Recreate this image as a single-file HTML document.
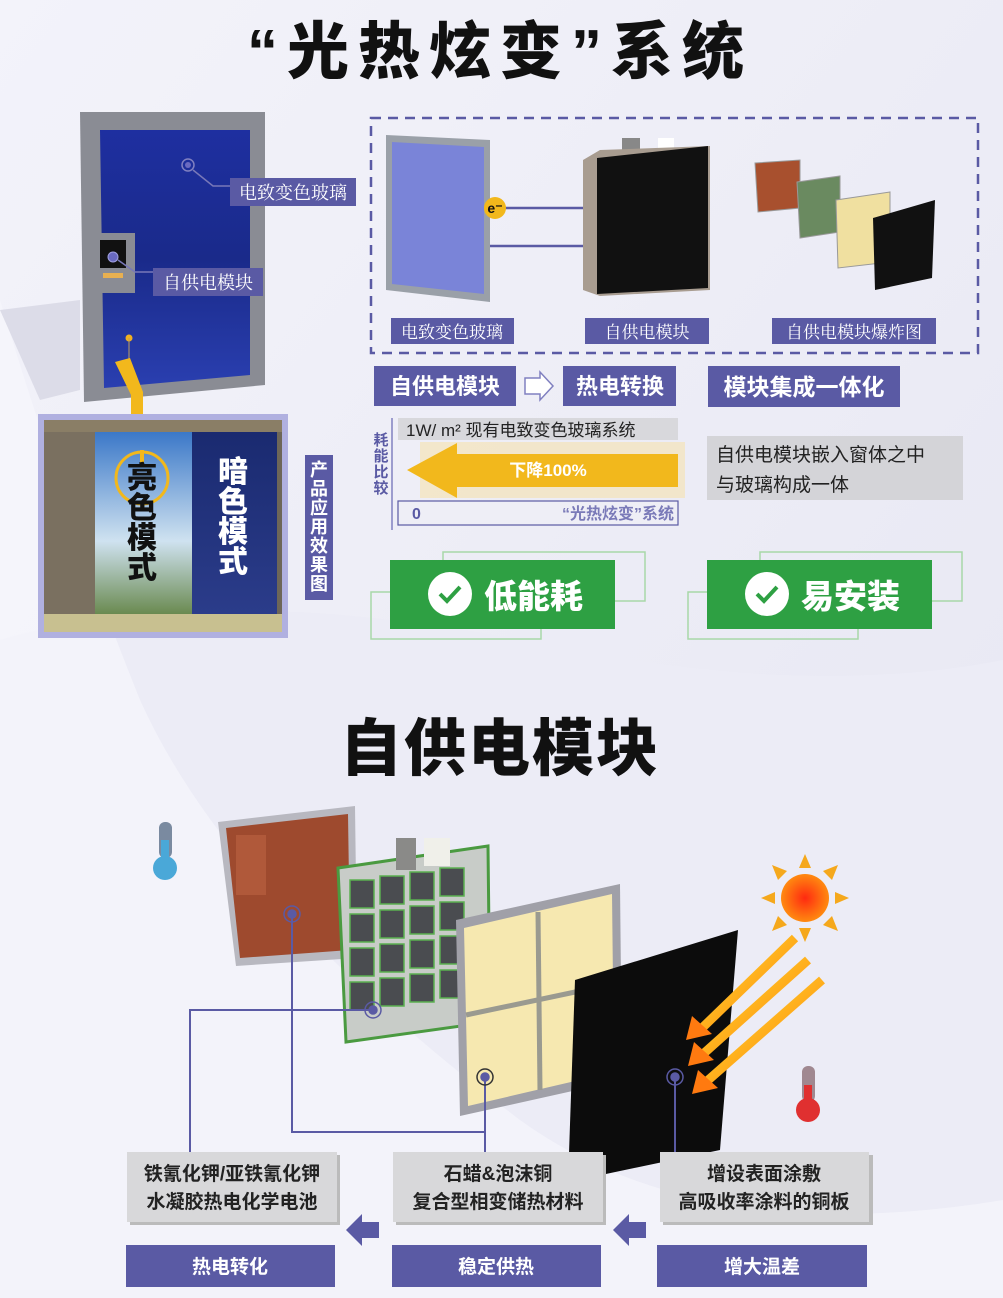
<!DOCTYPE html>
<html><head><meta charset="utf-8"><style>
html,body{margin:0;padding:0;background:#eeeef7;}
svg{display:block}
text{font-family:"Liberation Sans","Noto Sans CJK SC",sans-serif;}
.ser{font-family:"Liberation Serif","Noto Serif CJK SC",serif;}
</style></head><body>
<svg width="1003" height="1298" viewBox="0 0 1003 1298" xmlns="http://www.w3.org/2000/svg">
<defs>
<linearGradient id="bg" x1="0" y1="0" x2="1" y2="1">
<stop offset="0" stop-color="#f3f3fa"/><stop offset="1" stop-color="#e6e6f2"/></linearGradient>
<linearGradient id="glass" x1="0" y1="0" x2="0" y2="1">
<stop offset="0" stop-color="#1e2fa0"/><stop offset="0.5" stop-color="#1a2a8a"/><stop offset="1" stop-color="#2a3fb0"/></linearGradient>
<linearGradient id="sky" x1="0" y1="0" x2="0" y2="1">
<stop offset="0" stop-color="#3b78c8"/><stop offset="0.6" stop-color="#cfe2f0"/><stop offset="1" stop-color="#6a8a50"/></linearGradient>
<linearGradient id="dark" x1="0" y1="0" x2="0" y2="1">
<stop offset="0" stop-color="#1a2a70"/><stop offset="1" stop-color="#2b3c8a"/></linearGradient>
<linearGradient id="arr" x1="0" y1="0" x2="1" y2="1">
<stop offset="0" stop-color="#ffe62a"/><stop offset="1" stop-color="#ff7a10"/></linearGradient>
<radialGradient id="sun"><stop offset="0" stop-color="#ff2a10"/><stop offset="1" stop-color="#ff8a10"/></radialGradient>
</defs>
<rect width="1003" height="1298" fill="url(#bg)"/>
<path d="M0 640 Q200 580 520 640 Q800 700 1003 660 L1003 1298 L0 1298 Z" fill="#ececf6"/>
<path d="M0 300 Q60 500 140 700 Q230 900 520 1120 Q700 1250 1003 1200 L1003 1298 L0 1298Z" fill="#f7f7fc" opacity="0.7"/>

<!-- title -->
<text x="500" y="73" text-anchor="middle" font-size="62" font-weight="900" fill="#111" letter-spacing="9">“光热炫变”系统</text>

<!-- window -->
<polygon points="0,310 80,300 80,390 40,400" fill="#dcdce8"/>
<polygon points="80,112 265,112 265,385 84,402" fill="#8a8c94"/>
<polygon points="100,130 250,130 250,375 104,388" fill="url(#glass)"/>
<rect x="95" y="233" width="40" height="60" fill="#8a8c94"/>
<rect x="100" y="240" width="26" height="28" fill="#111"/>
<rect x="103" y="273" width="20" height="5" fill="#e8b050"/>
<circle cx="188" cy="165" r="6" fill="none" stroke="#8080c0" stroke-width="1.5"/><circle cx="188" cy="165" r="3" fill="#6a6ac0"/>
<polyline points="193,170 213,186 232,186" fill="none" stroke="#7878b8" stroke-width="1.5"/>
<rect x="230" y="178" width="126" height="28" fill="#5a5aa4"/>
<text x="293" y="199" class="ser" text-anchor="middle" font-size="18" fill="#fff">电致变色玻璃</text>
<circle cx="113" cy="257" r="5" fill="#6a6ac0" stroke="#a0a0e0"/>
<polyline points="118,260 135,272 153,272" fill="none" stroke="#7878b8" stroke-width="1.5"/>
<rect x="153" y="268" width="110" height="28" fill="#5a5aa4"/>
<text x="208" y="289" class="ser" text-anchor="middle" font-size="18" fill="#fff">自供电模块</text>
<circle cx="129" cy="338" r="3.5" fill="#f0b020"/>
<line x1="129" y1="338" x2="129" y2="370" stroke="#c0a060"/>
<polygon points="115,362 130,358 143,392 143,430 131,430 131,395" fill="#f2b81c"/>

<!-- room -->
<rect x="38" y="414" width="250" height="224" fill="#b0b0e0"/>
<rect x="44" y="420" width="238" height="212" fill="#6d6658"/>
<polygon points="44,420 282,420 282,432 44,432" fill="#8a7e66"/>
<rect x="95" y="432" width="97" height="182" fill="url(#sky)"/>
<rect x="192" y="432" width="85" height="182" fill="url(#dark)"/>
<rect x="44" y="432" width="51" height="190" fill="#7a7060"/>
<polygon points="44,614 282,614 282,632 44,632" fill="#c8c090"/>
<rect x="140" y="450" width="4" height="14" fill="#f2b81c"/>
<circle cx="142" cy="478" r="26" fill="none" stroke="#f2b81c" stroke-width="3"/>
<text x="142" y="488" text-anchor="middle" font-size="30" font-weight="900" fill="#111"><tspan x="142" dy="0">亮</tspan><tspan x="142" dy="30">色</tspan><tspan x="142" dy="30">模</tspan><tspan x="142" dy="30">式</tspan></text>
<text x="233" y="482" text-anchor="middle" font-size="30" font-weight="900" fill="#fff"><tspan x="233" dy="0">暗</tspan><tspan x="233" dy="30">色</tspan><tspan x="233" dy="30">模</tspan><tspan x="233" dy="30">式</tspan></text>
<rect x="305" y="455" width="28" height="145" fill="#5a5aa4"/>
<text x="319" y="476" text-anchor="middle" font-size="18" font-weight="700" fill="#fff"><tspan x="319" dy="0">产</tspan><tspan x="319" dy="19">品</tspan><tspan x="319" dy="19">应</tspan><tspan x="319" dy="19">用</tspan><tspan x="319" dy="19">效</tspan><tspan x="319" dy="19">果</tspan><tspan x="319" dy="19">图</tspan></text>

<!-- dashed box -->
<rect x="371" y="118" width="607" height="235" fill="none" stroke="#5a5aa4" stroke-width="2.5" stroke-dasharray="10,7"/>
<polygon points="386,135 490,140 490,302 386,290" fill="#9aa0a8"/>
<polygon points="392,142 484,147 484,294 392,284" fill="#7a84d8"/>
<line x1="490" y1="208" x2="585" y2="208" stroke="#5a5aa4" stroke-width="2.5"/>
<line x1="490" y1="246" x2="585" y2="246" stroke="#5a5aa4" stroke-width="2.5"/>
<circle cx="495" cy="208" r="11" fill="#f2b81c"/><text x="495" y="213" text-anchor="middle" font-size="14" font-weight="700" fill="#111">e⁻</text>
<circle cx="598" cy="248" r="11" fill="#f2b81c"/><text x="598" y="253" text-anchor="middle" font-size="14" font-weight="700" fill="#111">e⁻</text>
<rect x="622" y="138" width="18" height="12" fill="#888"/><rect x="658" y="138" width="16" height="12" fill="#fff"/>
<polygon points="583,160 600,150 710,146 710,290 600,296 583,290" fill="#a89c90"/>
<polygon points="597,158 708,146 708,288 597,294" fill="#111"/>
<!-- exploded mini -->
<polygon points="755,163 800,160 800,208 758,212" fill="#a8502e" stroke="#999"/>
<polygon points="797,182 840,176 840,232 800,238" fill="#6a8a60" stroke="#999"/>
<polygon points="836,200 890,192 890,262 838,268" fill="#f0e0a0" stroke="#999"/>
<polygon points="873,218 935,200 932,278 875,290" fill="#111"/>
<rect x="391" y="318" width="123" height="26" fill="#5a5aa4"/><text x="452" y="338" class="ser" text-anchor="middle" font-size="17" fill="#fff">电致变色玻璃</text>
<rect x="585" y="318" width="124" height="26" fill="#5a5aa4"/><text x="647" y="338" class="ser" text-anchor="middle" font-size="17" fill="#fff">自供电模块</text>
<rect x="772" y="318" width="164" height="26" fill="#5a5aa4"/><text x="854" y="338" class="ser" text-anchor="middle" font-size="17" fill="#fff">自供电模块爆炸图</text>

<!-- feature boxes -->
<rect x="374" y="366" width="142" height="40" fill="#5a5aa4"/><text x="445" y="394" text-anchor="middle" font-size="22" font-weight="700" fill="#fff">自供电模块</text>
<polygon points="525,378 540,378 540,372 553,386 540,400 540,394 525,394" fill="#fff" stroke="#8080c0" stroke-width="1.5"/>
<rect x="563" y="366" width="113" height="40" fill="#5a5aa4"/><text x="620" y="394" text-anchor="middle" font-size="22" font-weight="700" fill="#fff">热电转换</text>
<rect x="708" y="366" width="192" height="41" fill="#5a5aa4"/><text x="804" y="395" text-anchor="middle" font-size="23" font-weight="700" fill="#fff">模块集成一体化</text>

<text x="381" y="445" text-anchor="middle" font-size="15" font-weight="700" fill="#5a5aa4"><tspan x="381" dy="0">耗</tspan><tspan x="381" dy="16">能</tspan><tspan x="381" dy="16">比</tspan><tspan x="381" dy="16">较</tspan></text>
<line x1="392" y1="418" x2="392" y2="530" stroke="#8080c0" stroke-width="1.5"/>
<rect x="398" y="418" width="280" height="22" fill="#d8d8dc"/>
<text x="406" y="436" font-size="17" fill="#222">1W/ m² 现有电致变色玻璃系统</text>
<rect x="420" y="442" width="265" height="56" fill="#f7e0a0" opacity="0.5"/>
<polygon points="407,470 457,443 457,454 678,454 678,487 457,487 457,498" fill="#f2b81c"/>
<text x="548" y="476" text-anchor="middle" font-size="17" font-weight="700" fill="#fff">下降100%</text>
<rect x="398" y="501" width="280" height="24" fill="#eeeef6" stroke="#5a5aa4" stroke-width="1.2"/>
<text x="412" y="519" font-size="16" font-weight="700" fill="#5a5aa4">0</text>
<text x="674" y="519" text-anchor="end" font-size="16" font-weight="700" fill="#7a7ab8">“光热炫变”系统</text>
<rect x="707" y="436" width="256" height="64" fill="#d4d4d8"/>
<text x="716" y="461" font-size="19" fill="#222">自供电模块嵌入窗体之中</text>
<text x="716" y="491" font-size="19" fill="#222">与玻璃构成一体</text>

<!-- green buttons -->
<rect x="443" y="552" width="202" height="49" fill="none" stroke="#a8d8a8" stroke-width="1.5"/>
<rect x="371" y="592" width="170" height="47" fill="none" stroke="#a8d8a8" stroke-width="1.5"/>
<rect x="390" y="560" width="225" height="69" fill="#2ea043"/>
<circle cx="450" cy="594" r="22" fill="#fff"/><polyline points="440,594 447,601 460,587" fill="none" stroke="#2ea043" stroke-width="4"/>
<text x="484" y="608" font-size="33" font-weight="900" fill="#fff">低能耗</text>
<rect x="760" y="552" width="202" height="49" fill="none" stroke="#a8d8a8" stroke-width="1.5"/>
<rect x="688" y="592" width="170" height="47" fill="none" stroke="#a8d8a8" stroke-width="1.5"/>
<rect x="707" y="560" width="225" height="69" fill="#2ea043"/>
<circle cx="767" cy="594" r="22" fill="#fff"/><polyline points="757,594 764,601 777,587" fill="none" stroke="#2ea043" stroke-width="4"/>
<text x="801" y="608" font-size="33" font-weight="900" fill="#fff">易安装</text>

<!-- title 2 -->
<text x="500" y="770" text-anchor="middle" font-size="62" font-weight="900" fill="#111" letter-spacing="2">自供电模块</text>

<!-- thermometers -->
<rect x="159" y="822" width="13" height="36" rx="6" fill="#7a8aa0"/><circle cx="165" cy="868" r="12" fill="#4aa8d8"/><rect x="161" y="840" width="8" height="24" fill="#4aa8d8"/>
<rect x="802" y="1066" width="13" height="36" rx="6" fill="#a08890"/><circle cx="808" cy="1110" r="12" fill="#e03030"/><rect x="804" y="1085" width="8" height="24" fill="#e03030"/>

<!-- sun -->
<g transform="translate(805,898)" fill="#f5a81c">
<polygon points="-6,-30 6,-30 0,-44"/><polygon points="-6,30 6,30 0,44"/><polygon points="-30,-6 -30,6 -44,0"/><polygon points="30,-6 30,6 44,0"/>
<polygon points="18,-27 27,-18 33,-33"/><polygon points="-18,-27 -27,-18 -33,-33"/><polygon points="18,27 27,18 33,33"/><polygon points="-18,27 -27,18 -33,33"/>
</g>
<circle cx="805" cy="898" r="24" fill="url(#sun)"/>

<!-- panels -->
<polygon points="218,822 355,806 357,958 236,966" fill="#b8b8c0"/>
<polygon points="226,828 348,814 350,950 240,958" fill="#9e4a2e"/>
<rect x="236" y="835" width="30" height="60" fill="#b86040" opacity="0.7"/>
<polygon points="338,868 488,846 490,1022 346,1042" fill="#c8ccc8" stroke="#4a9a40" stroke-width="3"/>
<rect x="396" y="838" width="20" height="32" fill="#8a8a88"/><rect x="424" y="838" width="26" height="28" fill="#f0f0ea"/>
<g fill="#4a4c50" stroke="#5ab050" stroke-width="1.5">
<rect x="350" y="880" width="24" height="28"/><rect x="380" y="876" width="24" height="28"/><rect x="410" y="872" width="24" height="28"/><rect x="440" y="868" width="24" height="28"/>
<rect x="350" y="914" width="24" height="28"/><rect x="380" y="910" width="24" height="28"/><rect x="410" y="906" width="24" height="28"/><rect x="440" y="902" width="24" height="28"/>
<rect x="350" y="948" width="24" height="28"/><rect x="380" y="944" width="24" height="28"/><rect x="410" y="940" width="24" height="28"/><rect x="440" y="936" width="24" height="28"/>
<rect x="350" y="982" width="24" height="28"/><rect x="380" y="978" width="24" height="28"/><rect x="410" y="974" width="24" height="28"/><rect x="440" y="970" width="24" height="28"/>
</g>
<polygon points="456,920 620,884 622,1080 460,1116" fill="#a0a0a8"/>
<polygon points="464,928 612,894 614,1072 468,1106" fill="#f6e8b0"/>
<line x1="538" y1="912" x2="540" y2="1090" stroke="#9a9a90" stroke-width="5"/>
<line x1="466" y1="1015" x2="613" y2="984" stroke="#9a9a90" stroke-width="5"/>
<polygon points="575,980 738,930 720,1150 568,1182" fill="#0c0c0c"/>

<!-- sun arrows -->
<g stroke="url(#arr)" stroke-width="9" fill="none">
<line x1="795" y1="938" x2="700" y2="1030"/><line x1="808" y1="960" x2="702" y2="1055"/><line x1="822" y1="980" x2="706" y2="1082"/>
</g>
<g fill="#ff7a10"><polygon points="686,1040 692,1016 712,1034"/><polygon points="688,1066 694,1042 714,1060"/><polygon points="692,1094 698,1070 718,1088"/></g>

<!-- connectors -->
<g stroke="#5a5aa4" stroke-width="2" fill="none">
<polyline points="292,914 292,1132 485,1132"/>
<polyline points="485,1077 485,1152"/>
<polyline points="373,1010 190,1010 190,1152"/>
<polyline points="675,1078 675,1152"/>
</g>
<g fill="#5a5aa4" stroke="#5a5aa4" stroke-width="1.5">
<circle cx="292" cy="914" r="4"/><circle cx="292" cy="914" r="8" fill="none"/>
<circle cx="373" cy="1010" r="4"/><circle cx="373" cy="1010" r="8" fill="none"/>
<circle cx="485" cy="1077" r="4"/><circle cx="485" cy="1077" r="8" fill="none" stroke="#333"/>
<circle cx="675" cy="1077" r="4"/><circle cx="675" cy="1077" r="8" fill="none"/>
</g>

<!-- bottom boxes -->
<rect x="130" y="1155" width="210" height="70" fill="#bbb"/>
<rect x="127" y="1152" width="210" height="70" fill="#d8d8da"/>
<text x="232" y="1180" text-anchor="middle" font-size="19" font-weight="700" fill="#222">铁氰化钾/亚铁氰化钾</text>
<text x="232" y="1208" text-anchor="middle" font-size="19" font-weight="700" fill="#222">水凝胶热电化学电池</text>
<rect x="396" y="1155" width="210" height="70" fill="#bbb"/>
<rect x="393" y="1152" width="210" height="70" fill="#d8d8da"/>
<text x="498" y="1180" text-anchor="middle" font-size="19" font-weight="700" fill="#222">石蜡&amp;泡沫铜</text>
<text x="498" y="1208" text-anchor="middle" font-size="19" font-weight="700" fill="#222">复合型相变储热材料</text>
<rect x="663" y="1155" width="210" height="70" fill="#bbb"/>
<rect x="660" y="1152" width="209" height="70" fill="#d8d8da"/>
<text x="764" y="1180" text-anchor="middle" font-size="19" font-weight="700" fill="#222">增设表面涂敷</text>
<text x="764" y="1208" text-anchor="middle" font-size="19" font-weight="700" fill="#222">高吸收率涂料的铜板</text>
<polygon points="346,1230 362,1214 362,1222 379,1222 379,1238 362,1238 362,1246" fill="#5a5aa4"/>
<polygon points="613,1230 629,1214 629,1222 646,1222 646,1238 629,1238 629,1246" fill="#5a5aa4"/>
<rect x="126" y="1245" width="209" height="42" fill="#5a5aa4"/><text x="230" y="1273" text-anchor="middle" font-size="19" font-weight="700" fill="#fff">热电转化</text>
<rect x="392" y="1245" width="209" height="42" fill="#5a5aa4"/><text x="496" y="1273" text-anchor="middle" font-size="19" font-weight="700" fill="#fff">稳定供热</text>
<rect x="657" y="1245" width="210" height="42" fill="#5a5aa4"/><text x="762" y="1273" text-anchor="middle" font-size="19" font-weight="700" fill="#fff">增大温差</text>
</svg>
</body></html>
